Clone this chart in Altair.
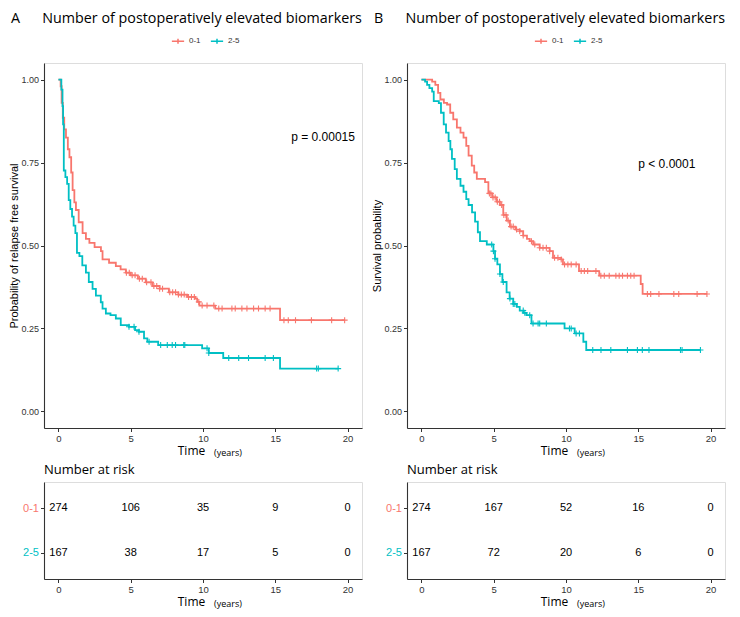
import altair as alt
import pandas as pd
import numpy as np

RED = "#F8766D"
TEAL = "#00BFC4"
groups = ["0-1", "2-5"]
ticks_x = [0, 5, 10, 15, 20]
ticks_y = [0, 0.25, 0.5, 0.75, 1.0]

TITLE_FONT = "Open Sans"
AX_FONT = "Liberation Sans"
NB = "\u00a0"

# ---------------- Panel A : relapse free survival ----------------
a_red_t = [0, 0.15, 0.22, 0.3, 0.4, 0.52, 0.65, 0.76, 0.88, 0.98, 1.1, 1.21, 1.4, 1.67, 1.9, 2.14, 2.5,
           2.94, 3.05, 3.5, 3.97, 4.3, 4.66, 5.0, 5.5, 6.04, 6.5, 7.0, 7.64, 8.3, 8.9, 9.46, 9.6, 9.75,
           10.85, 15.33, 19.8]
a_red_s = [1.0, 0.98, 0.93, 0.885, 0.85, 0.825, 0.79, 0.766, 0.72, 0.667, 0.63, 0.607, 0.57, 0.537, 0.52,
           0.508, 0.495, 0.483, 0.458, 0.448, 0.438, 0.428, 0.418, 0.41, 0.40, 0.389, 0.378, 0.37, 0.359,
           0.352, 0.345, 0.34, 0.33, 0.319, 0.31, 0.275, 0.275]
a_red_cens = [4.7, 4.9, 5.1, 5.3, 5.6, 5.8, 6.1, 6.4, 6.6, 6.8, 7.0, 7.2, 7.7, 7.9, 8.1, 8.3, 8.5, 8.7, 9.0,
              9.2, 9.4, 9.71, 9.94, 10.28, 10.75, 11.09, 11.32, 12.0, 12.23, 12.69, 13.04, 13.5, 13.84,
              14.3, 14.64, 15.6, 15.9, 16.4, 17.5, 18.9, 19.8]

a_teal_t = [0, 0.2, 0.28, 0.32, 0.37, 0.48, 0.6, 0.71, 0.82, 0.94, 1.05, 1.17, 1.28, 1.45, 1.65, 1.9, 2.1,
            2.36, 2.59, 2.93, 3.05, 3.28, 3.6, 3.97, 4.31, 4.88, 5.3, 5.57, 5.92, 6.15, 6.9, 9.94, 10.4,
            11.4, 15.33, 19.35]
a_teal_s = [1.0, 0.97, 0.92, 0.865, 0.726, 0.706, 0.686, 0.637, 0.61, 0.587, 0.56, 0.537, 0.478, 0.468,
            0.44, 0.418, 0.39, 0.369, 0.349, 0.329, 0.31, 0.295, 0.29, 0.28, 0.26, 0.255, 0.245, 0.24,
            0.22, 0.21, 0.2, 0.19, 0.176, 0.161, 0.129, 0.129]
a_teal_cens = [4.88, 5.23, 5.57, 6.27, 7.07, 7.53, 7.87, 8.1, 8.67, 8.74, 10.28, 10.4, 11.78, 12.47,
               13.15, 14.3, 14.87, 17.86, 17.98, 19.35]

a_risk_red = [274, 106, 35, 9, 0]
a_risk_teal = [167, 38, 17, 5, 0]

# ---------------- Panel B : survival ----------------
b_red_t = [0, 0.74, 0.96, 1.15, 1.31, 1.55, 1.77, 1.99, 2.2, 2.45, 2.7, 2.91, 3.1, 3.26, 3.48, 3.65, 3.83,
           4.4, 4.63, 4.9, 5.2, 5.43, 5.66, 5.9, 6.12, 6.5, 6.8, 7.04, 7.3, 7.49, 7.73, 8.18, 8.87, 9.1,
           9.67, 9.79, 10.9, 12.3, 15.17, 15.3, 19.75]
b_red_s = [1.0, 0.994, 0.984, 0.96, 0.94, 0.93, 0.925, 0.9, 0.88, 0.855, 0.84, 0.825, 0.8, 0.771, 0.741,
           0.72, 0.701, 0.691, 0.657, 0.645, 0.632, 0.622, 0.592, 0.575, 0.557, 0.548, 0.543, 0.53, 0.52,
           0.513, 0.503, 0.493, 0.483, 0.463, 0.458, 0.443, 0.423, 0.409, 0.384, 0.354, 0.354]
b_red_cens = [4.7, 4.8, 4.95, 5.1, 5.25, 5.4, 5.55, 5.7, 5.85, 6.0, 6.2, 6.35, 6.58, 6.8, 7.04, 7.61,
              7.84, 8.18, 8.41, 8.64, 8.87, 9.21, 9.44, 9.67, 9.9, 10.13, 10.36, 10.7, 11.05, 11.27,
              11.5, 12.07, 12.41, 12.65, 12.99, 13.45, 13.68, 13.91, 14.25, 14.48, 14.71, 15.63, 15.86,
              16.43, 17.46, 17.8, 19.07, 19.75]

b_teal_t = [0, 0.25, 0.39, 0.55, 0.74, 0.85, 1.2, 1.35, 1.54, 1.7, 1.88, 2.0, 2.11, 2.3, 2.45, 2.7, 2.91,
            3.1, 3.26, 3.5, 3.71, 3.9, 4.05, 4.52, 4.98, 5.09, 5.25, 5.43, 5.6, 5.89, 6.1, 6.35, 6.6, 6.8,
            7.05, 7.26, 7.61, 9.9, 10.6, 11.2, 11.4, 19.3]
b_teal_s = [1.0, 0.994, 0.984, 0.974, 0.964, 0.935, 0.929, 0.9, 0.865, 0.84, 0.815, 0.79, 0.761, 0.73,
            0.701, 0.68, 0.662, 0.64, 0.622, 0.6, 0.572, 0.54, 0.513, 0.503, 0.483, 0.46, 0.443, 0.414,
            0.39, 0.359, 0.34, 0.324, 0.315, 0.304, 0.297, 0.29, 0.265, 0.25, 0.235, 0.21, 0.185, 0.185]
b_teal_cens = [4.86, 4.98, 5.09, 5.43, 5.66, 6.12, 6.35, 6.46, 7.04, 7.15, 7.49, 7.72, 8.07, 8.18, 8.64,
               10.24, 10.36, 10.7, 10.93, 11.85, 12.42, 13.1, 14.25, 14.94, 15.28, 15.74, 17.92, 18.03,
               19.3]

b_risk_red = [274, 167, 52, 16, 0]
b_risk_teal = [167, 72, 20, 6, 0]

PLUS = "M-1,0H1M0,-1V1"
LEG_SYM = "M-1,0H1M0,-0.4V0.4"
W, H_MAIN, H_RISK = 318, 365, 97
TITLE = "Number of postoperatively elevated biomarkers"


def steps_df(t, s, g):
    return pd.DataFrame({"t": t, "s": s, "g": g})


def cens_df(t, s, cens, g):
    idx = np.searchsorted(np.array(t), np.array(cens), side="right") - 1
    return pd.DataFrame({"t": cens, "s": [s[i] for i in idx], "g": g})


def axis_common(**kw):
    base = dict(grid=False, domainColor="#333333", domainWidth=1.1, tickColor="#333333",
                tickSize=3.5, tickWidth=1, labelColor="#333333", labelFont=AX_FONT, labelFontSize=9.5,
                titleFont=TITLE_FONT, titleFontWeight="normal", titleColor="#000000")
    base.update(kw)
    return alt.Axis(**base)


def x_enc():
    return alt.X("t:Q", scale=alt.Scale(domain=[-1, 21], nice=False, zero=False),
                 axis=axis_common(values=ticks_x, title="Time", titleX=147, titleAlign="center",
                                  titleFontSize=12, titlePadding=2, labelPadding=2))


def years_layer(h):
    ydf = pd.DataFrame({"label": ["(years)"]})
    return alt.Chart(ydf).mark_text(align="left", baseline="alphabetic", fontSize=9, font=TITLE_FONT,
                                    color="#000000").encode(x=alt.value(170), y=alt.value(h + 28),
                                                            text="label:N")


def km_panel(letter, ylabel, rt, rs, rc, tt, ts, tc, ptext, px, py):
    steps = pd.concat([steps_df(rt, rs, "0-1"), steps_df(tt, ts, "2-5")])
    cens = pd.concat([cens_df(rt, rs, rc, "0-1"), cens_df(tt, ts, tc, "2-5")])
    y = alt.Y("s:Q", scale=alt.Scale(domain=[-0.05, 1.05], nice=False, zero=False),
              axis=axis_common(values=ticks_y, format=".2f", title=ylabel, titleFont=AX_FONT,
                               titleFontSize=11, titlePadding=1, labelPadding=2, labelFontSize=9))
    x = x_enc()
    lines = alt.Chart(steps).mark_line(interpolate="step-after", strokeWidth=1.8).encode(
        x=x, y=y,
        color=alt.Color("g:N", scale=alt.Scale(domain=groups, range=[RED, TEAL]),
                        legend=alt.Legend(title=None, orient="none", legendX=127, legendY=-29,
                                          direction="horizontal", symbolType=LEG_SYM, symbolSize=150,
                                          symbolStrokeWidth=1.5, labelFont=AX_FONT, labelFontSize=8,
                                          labelColor="#333333", columnPadding=6, labelOffset=4)),
    )
    pts = alt.Chart(cens).mark_point(shape=PLUS, size=36, strokeWidth=1.1, filled=False, opacity=1).encode(
        x=x, y=y,
        stroke=alt.Stroke("g:N", scale=alt.Scale(domain=groups, range=[RED, TEAL]), legend=None),
    )
    pdf = pd.DataFrame({"x": [px], "y": [py], "label": [ptext]})
    ptxt = alt.Chart(pdf).mark_text(align="left", baseline="middle", fontSize=12, font=AX_FONT,
                                    color="#000000").encode(x=alt.X("x:Q"), y=alt.Y("y:Q"), text="label:N")
    return alt.layer(lines, pts, ptxt, years_layer(H_MAIN)).properties(
        width=W, height=H_MAIN,
        title=alt.TitleParams(letter + NB * 6 + TITLE, anchor="start", frame="group", dx=-33,
                              font=TITLE_FONT, fontSize=14.3, fontWeight="normal",
                              color="#000000", offset=8),
    )


def risk_panel(red_n, teal_n):
    df = pd.DataFrame({"t": ticks_x * 2, "g": ["0-1"] * 5 + ["2-5"] * 5, "n": red_n + teal_n})
    txt = alt.Chart(df).mark_text(fontSize=11, font=AX_FONT, color="#000000", baseline="middle").encode(
        x=x_enc(),
        y=alt.Y("g:N", sort=groups, scale=alt.Scale(domain=groups, padding=0.6),
                axis=axis_common(title=None, labelFontSize=11, labelPadding=2,
                                 labelColor=alt.expr(f"datum.label == '0-1' ? '{RED}' : '{TEAL}'"))),
        text="n:Q",
    )
    return alt.layer(txt, years_layer(H_RISK)).properties(
        width=W, height=H_RISK,
        title=alt.TitleParams("Number at risk", anchor="start", frame="group", font=TITLE_FONT,
                              fontSize=13, fontWeight="normal", color="#000000", offset=5),
    )


mainA = km_panel("A", "Probability of relapse free survival", a_red_t, a_red_s, a_red_cens,
                 a_teal_t, a_teal_s, a_teal_cens, "p = 0.00015", 16.1, 0.828)
mainB = km_panel("B", "Survival probability", b_red_t, b_red_s, b_red_cens,
                 b_teal_t, b_teal_s, b_teal_cens, "p < 0.0001", 15.0, 0.747)

res = dict(x="independent", y="independent", color="independent", stroke="independent")
left = alt.vconcat(mainA, risk_panel(a_risk_red, a_risk_teal), spacing=4).resolve_scale(**res)
right = alt.vconcat(mainB, risk_panel(b_risk_red, b_risk_teal), spacing=4).resolve_scale(**res)

chart = alt.hconcat(left, right, spacing=8).resolve_scale(**res).properties(
    padding={"left": 0, "top": 3, "right": 0, "bottom": 0}
).configure_view(stroke=None).configure(background="white")

chart.save("out.html", embed_options={"renderer": "svg", "actions": False})
